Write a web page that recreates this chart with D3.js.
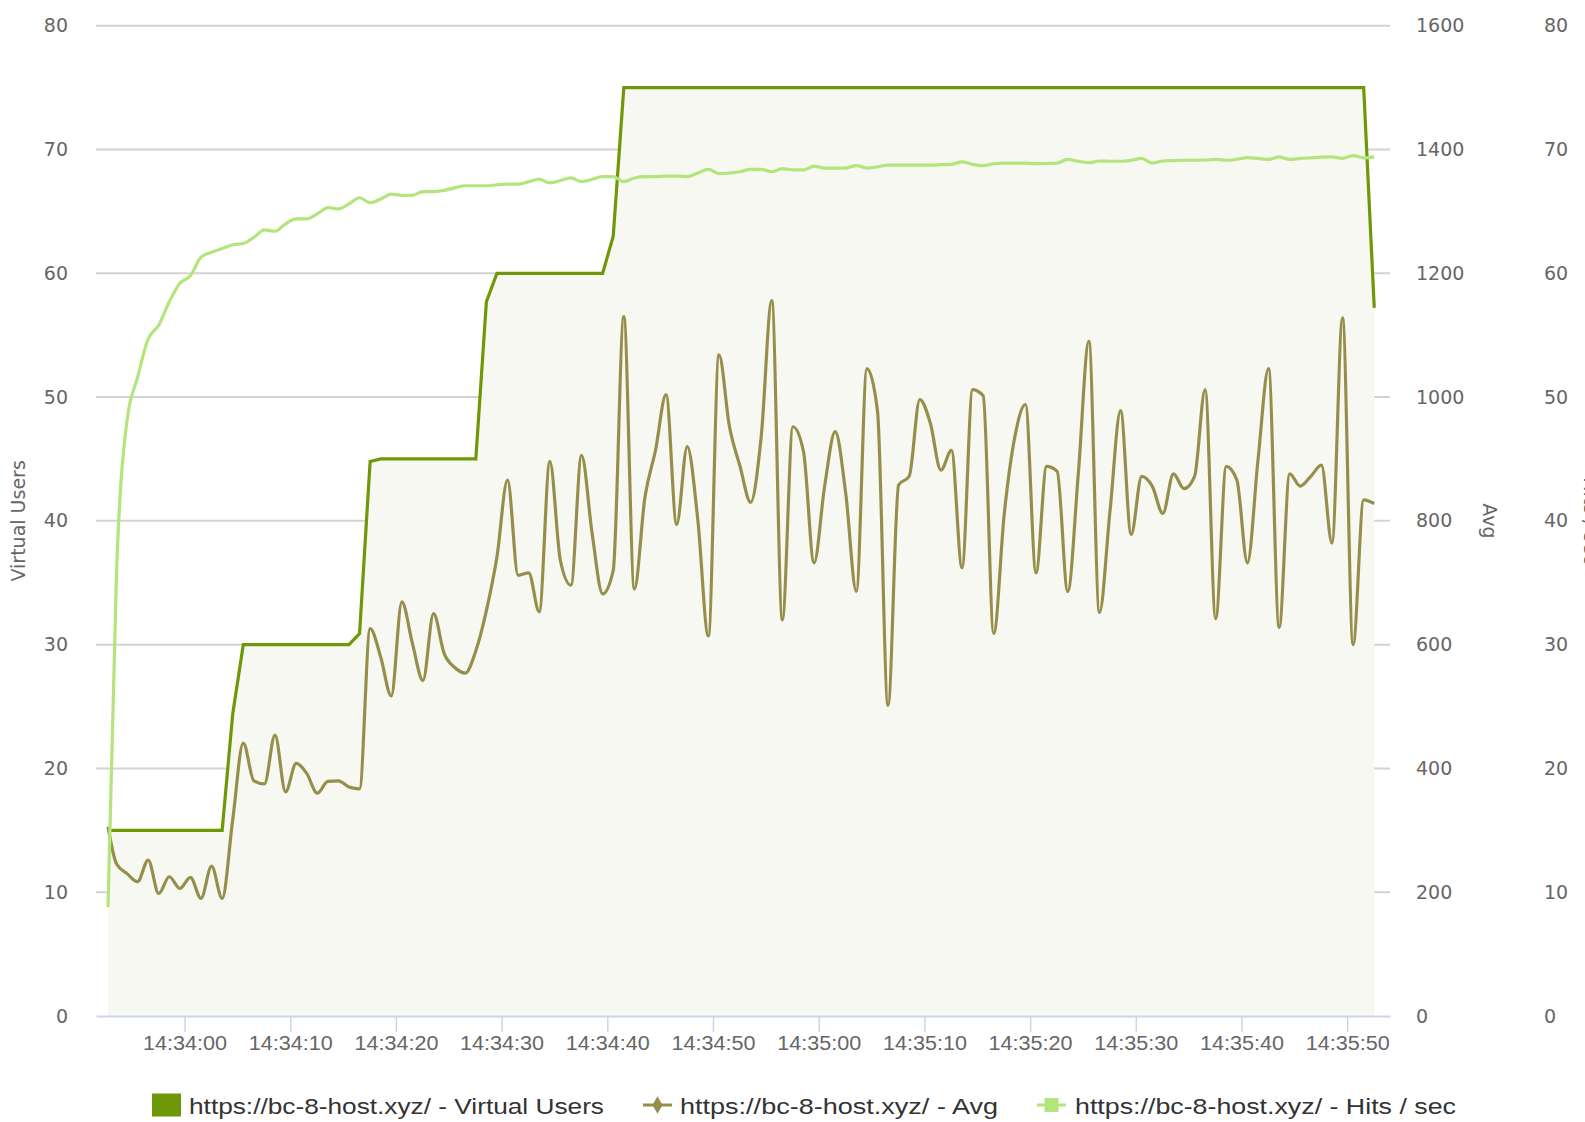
<!DOCTYPE html>
<html>
<head>
<meta charset="utf-8">
<title>Virtual Users, Avg, Hits / sec</title>
<script src="https://cdn.jsdelivr.net/npm/d3@7"></script>
<style>
  body { margin: 0; background: #fff; }
  svg text { font-family: "DejaVu Sans", sans-serif; }
  .y-axis .tick text { fill: #666; font-size: 19px; }
  .x-axis .tick text { fill: #666; font-family: "Liberation Sans", sans-serif; font-size: 20px; }
  .axis-title { fill: #666; font-size: 19px; }
  .legend text { fill: #333; font-family: "Liberation Sans", sans-serif; font-size: 22px; }
</style>
</head>
<body>
<script>
  // tick labels
  var xTickLabels = ["14:34:00", "14:34:10", "14:34:20", "14:34:30", "14:34:40", "14:34:50",
                     "14:35:00", "14:35:10", "14:35:20", "14:35:30", "14:35:40", "14:35:50"];
  var usersTicks = [0, 10, 20, 30, 40, 50, 60, 70, 80];
  var avgTicks = [0, 200, 400, 600, 800, 1000, 1200, 1400, 1600];
  var hitsTicks = [0, 10, 20, 30, 40, 50, 60, 70, 80];

  // first sample, then one sample a second
  var firstSample = "14:33:52.760";

  var usersValues = [15,
    15, 15, 15, 15, 15, 15, 15, 15, 15, 15, 15,
    24.4,
    30, 30, 30, 30, 30, 30, 30, 30, 30, 30, 30,
    30.9, 44.8,
    45, 45, 45, 45, 45, 45, 45, 45, 45, 45,
    57.7,
    60, 60, 60, 60, 60, 60, 60, 60, 60, 60, 60,
    63,
    75, 75, 75, 75, 75, 75, 75, 75, 75, 75,
    75, 75, 75, 75, 75, 75, 75, 75, 75, 75,
    75, 75, 75, 75, 75, 75, 75, 75, 75, 75,
    75, 75, 75, 75, 75, 75, 75, 75, 75, 75,
    75, 75, 75, 75, 75, 75, 75, 75, 75, 75,
    75, 75, 75, 75, 75, 75, 75, 75, 75, 75,
    75, 75, 75, 75, 75, 75, 75, 75, 75, 75,
    75,
    57.2];

  var avgValues = [306,
    246, 230, 217, 252, 198, 225, 206, 224, 190, 242,
    190, 317, 441, 380, 375, 454, 362, 408, 392, 360,
    379, 380, 370, 367, 626, 580, 517, 669, 602, 542,
    650, 586, 563, 554, 590, 655, 742, 866, 712, 716,
    653, 896, 736, 696, 906, 780, 682, 720, 1130, 690,
    838, 914, 1004, 794, 920, 802, 614, 1068, 952, 888,
    830, 936, 1156, 640, 952, 912, 732, 856, 944, 844,
    686, 1046, 978, 502, 858, 872, 996, 958, 882, 914,
    724, 1012, 1002, 618, 812, 936, 988, 716, 888, 880,
    686, 876, 1090, 652, 816, 978, 778, 872, 856, 812,
    876, 852, 872, 1012, 642, 888, 866, 732, 898, 1046,
    628, 876, 856, 872, 890, 764, 1128, 600, 834, 828];

  var hitsValues = [8.8,
    35.6, 48.1, 51.6, 54.7, 55.8, 57.7, 59.2, 59.8, 61.3, 61.7,
    62.0, 62.3, 62.4, 62.9, 63.5, 63.4, 64.0, 64.4, 64.4, 64.8,
    65.3, 65.2, 65.6, 66.1, 65.7, 66.0, 66.4, 66.3, 66.3, 66.6,
    66.6, 66.7, 66.9, 67.07, 67.07, 67.07, 67.15, 67.2, 67.2, 67.4,
    67.6, 67.3, 67.5, 67.7, 67.4, 67.6, 67.8, 67.8, 67.4, 67.7,
    67.8, 67.8, 67.85, 67.85, 67.8, 68.1, 68.4, 68.05, 68.1, 68.2,
    68.4, 68.4, 68.2, 68.45, 68.35, 68.35, 68.65, 68.5, 68.5, 68.5,
    68.7, 68.5, 68.6, 68.74, 68.74, 68.74, 68.74, 68.74, 68.77, 68.8,
    69.0, 68.8, 68.7, 68.85, 68.9, 68.9, 68.9, 68.85, 68.87, 68.9,
    69.2, 69.05, 68.93, 69.07, 69.05, 69.05, 69.13, 69.28, 68.9, 69.07,
    69.1, 69.13, 69.13, 69.15, 69.2, 69.13, 69.2, 69.35, 69.28, 69.2,
    69.4, 69.2, 69.28, 69.33, 69.38, 69.4, 69.28, 69.5, 69.33, 69.4];

  var legendLabels = ["https://bc-8-host.xyz/ - Virtual Users",
                      "https://bc-8-host.xyz/ - Avg",
                      "https://bc-8-host.xyz/ - Hits / sec"];

  var w = 1585, h = 1122;
  var plotLeft = 96, plotRight = 1390, plotTop = 25.7, plotBottom = 1016;

  var colUsers = "#6f9808", colUsersFill = "#f7f8f2";
  var colAvg = "#968f4c", colHits = "#b4e57c";

  var parseClock = d3.timeParse("%H:%M:%S.%L");
  var parseTick = d3.timeParse("%H:%M:%S");
  var t0 = parseClock(firstSample);

  function sampleTime(i) {
    var s = i === 0 ? 0 : 0.8 + (i - 1);
    return new Date(t0.getTime() + s * 1000);
  }

  var xScale = d3.scaleTime()
                 .domain([new Date(t0.getTime() - 1135), new Date(t0.getTime() + 121290)])
                 .range([plotLeft, plotRight]);
  var yUsers = d3.scaleLinear().domain([0, 80]).range([plotBottom, plotTop]);
  var yAvg = d3.scaleLinear().domain([0, 1600]).range([plotBottom, plotTop]);
  var yHits = d3.scaleLinear().domain([0, 80]).range([plotBottom, plotTop]);

  var svg = d3.select("body").append("svg")
              .attr("width", w)
              .attr("height", h);

  // grid
  svg.append("g")
     .selectAll("line")
     .data(usersTicks.slice(1))
     .enter().append("line")
     .attr("x1", plotLeft).attr("x2", plotRight)
     .attr("y1", function (d) { return yUsers(d); })
     .attr("y2", function (d) { return yUsers(d); })
     .attr("stroke", "#d3d3d3")
     .attr("stroke-width", 2);

  var users = usersValues.map(function (v, i) { return { t: sampleTime(i), v: v }; });
  var avg = avgValues.map(function (v, i) { return { t: sampleTime(i), v: v }; });
  var hits = hitsValues.map(function (v, i) { return { t: sampleTime(i), v: v }; });

  var usersArea = d3.area()
                    .x(function (d) { return xScale(d.t); })
                    .y0(yUsers(0))
                    .y1(function (d) { return yUsers(d.v); });

  var usersLine = d3.line()
                    .x(function (d) { return xScale(d.t); })
                    .y(function (d) { return yUsers(d.v); });

  var avgLine = d3.line()
                  .x(function (d) { return xScale(d.t); })
                  .y(function (d) { return yAvg(d.v); })
                  .curve(d3.curveMonotoneX);

  var hitsLine = d3.line()
                   .x(function (d) { return xScale(d.t); })
                   .y(function (d) { return yHits(d.v); })
                   .curve(d3.curveMonotoneX);

  svg.append("path").datum(users)
     .attr("d", usersArea)
     .attr("fill", colUsersFill);

  // x axis
  var xAxis = d3.axisBottom(xScale)
                .tickValues(xTickLabels.map(function (s) {
                  var d = parseTick(s);
                  return new Date(t0.getFullYear(), t0.getMonth(), t0.getDate(), d.getHours(), d.getMinutes(), d.getSeconds());
                }))
                .tickFormat(d3.timeFormat("%H:%M:%S"))
                .tickSize(16)
                .tickPadding(4)
                .tickSizeOuter(0);

  var axisX = svg.append("g")
                 .attr("class", "x-axis")
                 .attr("transform", "translate(0," + plotBottom + ")")
                 .call(xAxis);
  axisX.select(".domain").attr("stroke", "#ccd6eb").attr("stroke-width", 2);
  axisX.selectAll(".tick line").attr("stroke", "#ccd6eb").attr("stroke-width", 1.5);
  axisX.selectAll(".tick text")
       .attr("textLength", 84)
       .attr("lengthAdjust", "spacingAndGlyphs");

  svg.append("path").datum(users)
     .attr("d", usersLine)
     .attr("fill", "none")
     .attr("stroke", colUsers)
     .attr("stroke-width", 3.2);

  svg.append("path").datum(avg)
     .attr("d", avgLine)
     .attr("fill", "none")
     .attr("stroke", colAvg)
     .attr("stroke-width", 3.2);

  svg.append("path").datum(hits)
     .attr("d", hitsLine)
     .attr("fill", "none")
     .attr("stroke", colHits)
     .attr("stroke-width", 3.2);

  // y axes
  function styleY(g) {
    g.select(".domain").remove();
    g.selectAll(".tick line").remove();
  }

  var plain = d3.format("d");

  svg.append("g").attr("class", "y-axis")
     .attr("transform", "translate(" + plotLeft + ",0)")
     .call(d3.axisLeft(yUsers).tickValues(usersTicks).tickFormat(plain).tickSize(0).tickPadding(28))
     .call(styleY);

  svg.append("g").attr("class", "y-axis")
     .attr("transform", "translate(" + plotRight + ",0)")
     .call(d3.axisRight(yAvg).tickValues(avgTicks).tickFormat(plain).tickSize(0).tickPadding(26))
     .call(styleY);

  svg.append("g").attr("class", "y-axis")
     .attr("transform", "translate(" + plotRight + ",0)")
     .call(d3.axisRight(yHits).tickValues(hitsTicks).tickFormat(plain).tickSize(0).tickPadding(154))
     .call(styleY);

  var midY = (plotTop + plotBottom) / 2;

  svg.append("text").attr("class", "axis-title")
     .attr("transform", "translate(25," + midY + ") rotate(-90)")
     .attr("text-anchor", "middle")
     .text("Virtual Users");

  svg.append("text").attr("class", "axis-title")
     .attr("transform", "translate(1483," + midY + ") rotate(90)")
     .attr("text-anchor", "middle")
     .text("Avg");

  svg.append("text").attr("class", "axis-title")
     .attr("transform", "translate(1584," + midY + ") rotate(90)")
     .attr("text-anchor", "middle")
     .text("Hits / sec");

  // legend
  var legend = svg.append("g").attr("class", "legend");
  var legendY = 1105;

  legend.append("rect")
        .attr("x", 152).attr("y", legendY - 11.5)
        .attr("width", 29).attr("height", 23)
        .attr("fill", colUsers);

  legend.append("line")
        .attr("x1", 643).attr("x2", 672)
        .attr("y1", legendY).attr("y2", legendY)
        .attr("stroke", colAvg).attr("stroke-width", 3);
  legend.append("path")
        .attr("d", d3.symbol().type(d3.symbolDiamond).size(90))
        .attr("transform", "translate(657.5," + legendY + ")")
        .attr("fill", colAvg);

  legend.append("line")
        .attr("x1", 1037).attr("x2", 1066)
        .attr("y1", legendY).attr("y2", legendY)
        .attr("stroke", colHits).attr("stroke-width", 3);
  legend.append("rect")
        .attr("x", 1044.5).attr("y", legendY - 7)
        .attr("width", 14).attr("height", 14)
        .attr("fill", colHits);

  var legendX = [189, 680, 1075];
  var legendW = [415, 318, 381];
  legend.selectAll("text")
        .data(legendLabels)
        .enter().append("text")
        .attr("x", function (d, i) { return legendX[i]; })
        .attr("y", legendY + 8.5)
        .attr("textLength", function (d, i) { return legendW[i]; })
        .attr("lengthAdjust", "spacingAndGlyphs")
        .text(function (d) { return d; });
</script>
</body>
</html>
